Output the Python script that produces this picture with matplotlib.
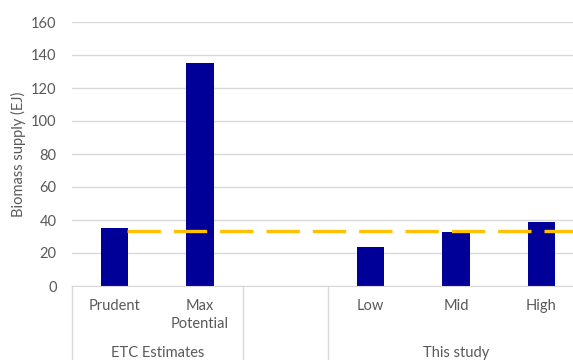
import matplotlib
matplotlib.use("Agg")
import matplotlib.pyplot as plt
import matplotlib.transforms as mtransforms

plt.rcParams['font.family'] = ['Lato', 'DejaVu Sans']

# data
categories = ["Prudent", "Max\nPotential", "", "Low", "Mid", "High"]
values = [35, 135, None, 23.5, 32.5, 39]
groups = ["ETC Estimates", "", "This study"]
group_spans = [(0, 1), (2, 2), (3, 5)]
reference_level = 33.5

GREY = "#595959"
GRID = "#d9d9d9"
FS = 10.5

fig = plt.figure(figsize=(5.73, 3.6), dpi=100)
# axes runs a little past the right edge, as in the original
ax = fig.add_axes([72 / 573, 74 / 360, 512 / 573, 264 / 360])

xs = [i for i, v in enumerate(values) if v is not None]
hs = [v for v in values if v is not None]
ax.bar(xs, hs, width=0.32, color="#000099", zorder=2)
ax.plot([0.15, 5.6], [reference_level, reference_level], color="#FFC000",
        lw=2.4, dashes=(10, 3.9), zorder=3, clip_on=False)

ax.set_xlim(-0.5, 5.5)
ax.set_ylim(0, 160)
ax.set_yticks(range(0, 161, 20))
ax.yaxis.grid(True, color=GRID, lw=1)
ax.set_axisbelow(True)
ax.tick_params(axis="y", length=0, pad=11, labelsize=FS, labelcolor=GREY)
ax.set_xticks([])
for s in ["top", "right", "left"]:
    ax.spines[s].set_visible(False)
ax.spines["bottom"].set_color(GRID)

trans = mtransforms.blended_transform_factory(ax.transData, ax.transAxes)
px = 1 / 264
for i, c in enumerate(categories):
    ax.text(i, -13 * px, c, transform=trans, ha="center", va="top",
            fontsize=FS, color=GREY, linespacing=1.4)
for g, (a, b) in zip(groups, group_spans):
    ax.text((a + b) / 2, -67 * px, g, transform=trans, ha="center",
            va="center", fontsize=FS, color=GREY)
for xb in [-0.5, 1.5, 2.5]:
    ax.plot([xb, xb], [0, -80 * px], transform=trans, color=GRID, lw=1,
            clip_on=False)

fig.text(18 / 573, 1 - 154 / 360, "Biomass supply (EJ)", rotation=90,
         ha="center", va="center", fontsize=FS, color=GREY)

fig.savefig("out.png", dpi=100)
